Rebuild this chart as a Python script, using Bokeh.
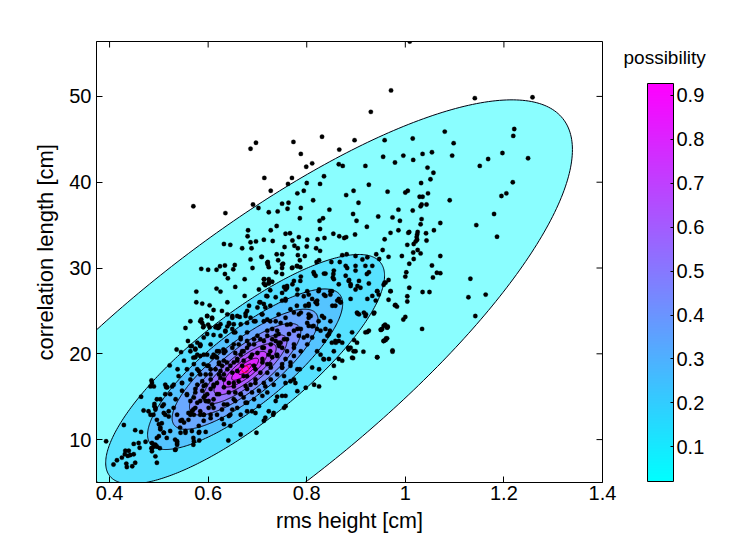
import numpy as np
from bokeh.plotting import figure
from bokeh.models import ColorBar, LinearColorMapper, Range1d, FixedTicker, ColumnDataSource, Title
from bokeh.embed import file_html
from bokeh.resources import INLINE

# contour model (concentric ellipses in data units)
centre_x, centre_y = 0.675, 18.2
half_width, half_height = 0.664, 31.4
correlation = 0.815
contour_levels = [0.0, 0.1, 0.2, 0.3, 0.4, 0.5, 0.6, 0.7, 0.8, 0.9]
contour_radii = [1.0, 0.426, 0.298, 0.223, 0.170, 0.128, 0.095, 0.066, 0.041, 0.0195]
band_colors = ["#8afeff", "#58e2ff", "#55c4ff", "#6aa8ff", "#7f8fff", "#9474ff", "#ad5aff", "#c840ff", "#e022ff", "#ff10e8"]

upper_x = [1.009,.971,.930,.697,.686,.773,.831,.788,.897,.866,.958,.799,.811,.865,.873,.919,.955,.979,.996,.714,.770,.762,.835,.827,.800,.926,.727,.781,.794,.895,.880,.964,1.0,.813,.570,.691,.702,.635,.750,.763,.761,.788,.905,.846,.723,.741,.894,.986,.945,.974,.786,.833,.826,.901,.989,.739,.727,.681,.922,.827,.986,.970,1.008,.757,.766,.680,.854,.866,.876,.880,.898,.771,.784,.801,.822,.836,.958,.686,.697,.713,.731,.632,.645,.669,.688,.755,.775,.782,.800,.819,.827,1.004,.954,.739,.750,.709,.782,.796,.872,.881,.899,.941,.966,.993,.686,.721,.742,.752,.786,.825,.820,.850,.867,.913,.923,.947,1.008,.586,.600,.617,.624,.634,.654,.651,.690,.723,.750,.771,.781,.787]
upper_y = [56.4,50.7,48.2,44.6,43.9,44.7,45.3,43.3,44.9,43.8,44.9,41.8,42.2,42.1,41.9,41.9,42.96,42.3,43.1,40.5,40.5,39.8,40.7,39.8,39.9,39.7,39.0,38.7,39.0,39.0,38.5,38.9,38.8,37.9,37.2,37.4,37.0,36.4,37.5,37.6,36.9,37.0,37.6,36.8,36.5,36.6,36.3,36.8,36.0,35.9,35.8,35.8,35.5,35.5,35.5,34.9,34.4,34.4,34.8,34.55,34.4,34.1,34.2,34.0,34.05,33.7,34.0,33.7,33.5,33.6,33.9,33.2,33.6,33.3,33.35,33.5,33.35,33.0,33.1,33.3,33.15,32.8,32.7,32.3,32.3,32.45,32.6,32.3,32.5,32.3,32.0,32.7,32.1,31.6,31.6,31.3,31.5,31.4,31.5,31.6,31.4,31.6,31.3,31.4,31.0,30.7,30.9,30.5,30.9,30.9,30.7,30.7,30.7,31.0,31.25,31.05,30.5,29.9,29.8,29.8,30.2,30.3,30.35,29.85,30.0,30.1,30.0,30.05,30.2,30.1]

right_x = [1.141,1.258,1.08,1.221,1.219,1.098,1.015,1.054,1.095,1.035,1.016,1.197,1.168,1.151,1.249,1.045,1.057,1.051,1.032,1.218,1.005,1.046,1.029,1.035,1.205,1.195,1.09,1.031,1.033,1.043,1.015,1.18,1.033,1.071,1.031,1.144,1.058,1.006,1.025,1.024,1.023,1.021,1.017,1.042,1.186,1.024,1.043,1.025,1.016,1.031,1.071,1.017,1.054,1.064,1.071,1.002,1.0,1.056,1.132,.966,.958,.956,1.008,.970,1.035,1.049,1.163,1.004,1.128,1.004,.966,.979,.983,1.142,1.0,.996,.959,.964,.951,1.034,.961,.956,.974]
right_y = [49.8,49.9,45.9,46.2,45.4,44.55,45.1,43.5,43.1,43.3,42.6,43.4,42.7,41.9,42.8,41.7,41.1,40.35,39.9,40.0,39.0,38.7,38.3,38.3,38.7,38.4,37.9,37.2,37.4,37.4,36.7,36.3,35.7,35.25,35.1,35.0,34.4,34.1,34.2,33.9,33.6,33.1,32.8,34.05,33.65,33.3,33.2,32.1,31.8,31.7,31.4,31.05,30.3,29.45,29.4,29.5,29.0,28.9,28.75,28.6,28.3,28.05,27.7,27.3,27.2,27.2,26.9,26.7,26.6,26.1,26.3,25.65,25.5,24.4,24.3,24.0,23.4,23.1,22.8,22.9,21.8,21.5,20.4]

middle_x = [.634,.640,.674,.655,.617,.625,.576,.714,.723,.716,.750,.754,.771,.788,.815,.854,.855,.835,.889,.886,.903,.926,.943,.960,.970,.98,.953,.964,.960,.974,.943,.923,.903,.92,.937,.896,.884,.899,.915,.894,.857,.815,.825,.798,.576,.588,.603,.611,.639,.674,.718,.564,.586,.588,.598,.608,.603,.554,.559,.564,.536,.545,.584,.605,.62,.649,.522,.538,.485,.49,.517,.464,.491,.469,.429,.452,.464,.393,.449,.459,.473,.461,.432,.439,.431,.437,.449,.442,.425,.415,.408,.452,.446,.435,.434,.371,.496,.485,.486,.49,.496,.534,.537,.571,.582,.595,.641,.666,.698,.713,.732,.757,.75,.74,.781,.767,.777,.786,.811,.825,.828,.835,.855,.872,.859,.865,.842,.847,.835,.821,.801,.811,.804,.821,.781,.744,.747,.737,.75]
middle_y = [29.3,28.8,28.7,27.8,27.6,27.25,27.25,28.7,28.3,28.0,29.3,27.8,28.1,29.0,29.3,29.3,28.7,29.35,28.1,28.6,27.9,28.2,27.3,28.3,27.3,25.7,22.9,23.2,21.6,20.25,19.6,22.55,24.7,24.6,24.8,21.6,20.7,20.3,20.25,19.5,17.2,16.4,16.2,16.05,26.0,25.85,25.65,25.1,26.0,26.75,26.75,23.8,24.0,23.6,24.4,24.2,23.1,23.0,21.5,20.9,20.5,20.2,20.9,21.1,23.0,24.2,18.65,18.2,16.9,16.2,16.1,15.0,13.9,13.4,11.7,11.1,10.9,9.8,9.5,9.6,9.75,9.05,8.7,8.7,8.3,8.1,8.3,8.2,7.9,7.6,7.1,7.3,6.9,6.8,7.2,5.0,7.3,9.0,8.65,9.2,9.2,8.85,9.8,9.8,10.9,10.9,9.9,10.6,10.8,12.2,12.9,13.9,15.1,15.0,15.65,16.8,16.6,18.2,18.4,18.2,19.9,19.35,18.6,19.2,21.3,21.5,22.1,22.7,21.5,20.3,22.1,23.2,24.2,22.9,22.9,20.9,21.3,22.1,18.8]

core_x = [.483,.496,.503,.513,.52,.493,.507,.5,.503,.51,.523,.496,.49,.486,.537,.544,.554,.544,.551,.564,.567,.574,.584,.591,.601,.595,.557,.547,.534,.53,.523,.513,.513,.574,.578,.588,.595,.581,.591,.598,.608,.615,.622,.628,.632,.578,.574,.598,.618,.635,.649,.662,.652,.649,.625,.622,.618,.639,.679,.686,.693,.713,.72,.7,.713,.706,.757,.781,.794,.804,.767,.774,.788,.804,.821,.821,.848,.848,.808,.801,.788,.774,.760,.747,.737,.74,.73,.72,.713,.7,.693,.683,.679,.669,.666,.659,.652,.645,.639,.632,.625,.618,.611,.605,.598,.591,.584,.578,.666,.672,.686,.7,.713,.727,.737,.743,.75,.74,.73,.72,.706,.696,.686,.679,.666,.652,.639,.628,.618,.605,.591,.581,.567,.662,.652,.642,.632,.622,.611,.601,.659,.669,.679,.693,.71,.723,.76,.767,.75,.754,.727,.716,.703,.693,.676,.659,.645,.628,.727,.781,.788,.801,.794,.784,.774,.76,.811,.828,.835,.845,.852,.869,.865,.835,.825,.801,.781,.76,.75,.737,.72,.683,.679,.659,.639,.628,.615,.598,.591,.578,.564,.551,.571,.557,.54,.547,.53,.564,.595,.605,.615,.622,.605,.588,.611,.655,.672,.72,.645,.632,.679,.696]
core_y = [12.9,14.7,14.7,12.9,13.3,13.7,13.9,11.8,11.2,10.8,11.0,10.2,9.4,9.6,9.6,10.8,11.0,12.2,12.0,12.9,13.3,13.7,12.9,12.9,13.7,14.5,15.3,15.7,14.7,13.7,15.3,16.4,15.3,15.5,16.4,16.8,16.4,18.0,18.8,18.6,19.6,19.7,18.8,18.6,19.2,19.9,19.6,19.9,20.3,20.3,20.7,21.1,22.5,22.9,22.1,23.1,23.2,23.2,22.5,24.2,23.8,23.8,24.0,25.4,25.8,26.0,26.4,26.9,26.7,26.9,25.2,24.8,24.8,25.6,25.8,26.2,26.9,27.3,24.4,23.6,22.9,22.7,23.4,23.6,23.8,22.7,22.9,22.1,21.5,22.1,21.7,21.1,20.7,20.3,19.9,19.4,19.0,18.6,18.2,17.6,17.2,16.6,16.2,15.9,15.3,14.9,14.5,14.3,21.7,19.2,19.6,20.1,20.7,21.1,21.5,21.1,20.7,19.9,19.6,18.8,17.8,17.0,16.4,15.9,15.3,14.7,14.1,13.5,12.9,12.5,12.2,11.6,11.0,16.8,16.2,16.6,16.1,15.3,14.7,14.5,18.0,18.6,17.4,18.6,19.4,19.9,20.3,19.0,18.4,17.4,17.0,16.2,15.7,14.7,14.3,13.7,12.9,12.4,18.4,18.2,20.3,21.1,21.9,22.1,21.1,21.7,21.9,22.7,24.2,22.3,25.6,26.0,26.4,26.9,27.5,27.3,27.5,27.7,27.1,26.6,26.7,25.6,25.0,24.4,24.6,25.0,23.1,22.3,21.9,21.3,20.3,19.2,18.8,18.2,17.4,16.6,16.4,17.0,17.6,18.2,18.2,17.6,17.0,15.7,13.7,15.5,14.9,15.5,11.6,11.8,13.3,13.1]

lower_left_x = [.486,.483,.515,.479,.491,.493,.489,.51,.496,.51,.52,.506,.503,.51,.5,.516,.537,.547,.56,.543,.554,.533,.537,.57,.581,.591,.57,.56,.557,.564,.527,.547,.486,.493,.493,.502,.533,.57,.582]
lower_left_y = [16.6,16.2,16.1,13.3,14.15,13.5,12.9,14.1,12.3,13.1,12.7,11.9,11.4,10.8,10.4,10.2,12.9,12.3,12.3,11.4,10.8,10.0,9.4,10.2,10.8,12.9,13.5,13.1,15.2,14.5,16.2,16.6,9.0,8.05,9.4,9.0,8.8,9.4,9.9]

right_band_x = [.814,.818,.838,.855,.853,.879,.882,.899,.899,.919,.922,.926,.933,.879,.885,.906,.889,.899,.909,.865,.943,.946,.933,.889,.923,.94,.902,.906,.916,.919,.936,.956,.963,.95,.919,.926,.956,.963,.892,.902,.889,.885,.895,.858,.851,.865,.872,.855,.892,.834,.845,.865,.943,.824,.851,.838,.811,.804,.797,.818,.862,.868,.858,.831,.824,.848,.838,.814,.804,.784,.804,.78,.757,.75,.76,.757,.774,.787,.78,.77,.75]
right_band_y = [29.5,29.1,29.35,29.7,28.9,30.25,30.0,30.25,29.7,30.25,29.3,29.5,30.25,29.1,28.5,28.5,27.9,27.5,27.7,28.1,27.3,26.9,26.75,26.4,26.4,26.2,24.8,24.6,24.8,24.4,24.7,23.25,23.05,22.8,22.5,22.7,21.5,21.8,22.5,21.3,20.7,20.5,20.3,21.5,21.3,22.1,21.3,20.3,19.55,19.4,19.4,19.4,19.6,27.3,27.3,26.75,26.4,25.8,25.6,26.0,26.2,26.0,25.6,24.4,23.8,23.8,22.9,23.25,23.25,24.6,24.6,25.6,26.2,26.2,27.9,27.5,28.5,28.5,30.25,30.0,30.4]

left_band_x = [.713,.723,.713,.723,.73,.738,.72,.721,.708,.703,.726,.704,.726,.716,.709,.676,.664,.635,.643,.6,.59,.584,.574,.57,.584,.618,.631]
left_band_y = [28.7,28.7,28.2,28.2,28.4,29.5,30.6,30.4,31.3,27.5,27.4,26.0,25.6,25.4,24.6,24.7,24.3,22.6,23.5,23.4,23.1,21.0,20.6,19.55,19.75,19.55,20.5]

inner_x = [.598,.608,.584,.591,.618,.625,.649,.652,.642,.676,.71,.679,.666,.635,.611,.655,.696,.726,.743,.757,.767,.72,.743,.764,.754,.774,.743,.73,.706,.693,.679,.666,.652,.638,.622,.584,.567,.574,.591,.611,.632,.655,.672,.689,.71,.726,.74,.757,.774,.75,.767,.726,.71,.659,.638,.622,.601,.578,.567,.584,.605,.625,.649,.672,.696,.72,.74,.757,.774,.733,.713,.696,.676,.652,.632,.611,.591,.574,.571,.594,.618,.642,.666,.689,.71,.737,.757,.754,.723,.703,.679,.655,.632,.608,.584,.571,.605,.642,.666,.689,.716,.733,.649]
inner_y = [24.4,24.1,23.8,23.25,23.25,23.45,24.4,23.45,23.6,24.4,24.6,23.6,23.45,22.7,22.2,22.5,23.8,23.8,24.6,24.2,23.45,22.7,22.3,22.3,21.7,20.7,21.3,21.7,21.7,21.1,21.5,21.9,21.1,21.5,20.3,21.1,20.9,20.5,19.9,19.9,20.1,20.1,20.3,19.9,20.7,20.3,19.75,19.4,19.75,18.4,18.6,18.8,19.0,19.2,19.0,19.0,18.6,18.2,17.6,17.6,17.6,18.0,17.8,17.4,18.2,17.8,17.6,16.6,17.0,16.4,16.6,16.6,16.25,16.6,17.0,16.4,16.25,15.9,14.9,15.1,15.3,15.5,15.3,15.5,15.1,14.5,15.1,13.7,13.3,13.9,14.3,14.5,14.1,14.1,13.3,12.9,12.9,12.75,12.9,13.3,12.55,13.1,13.5]

x_ticks = [0.4, 0.6, 0.8, 1.0, 1.2, 1.4]
y_ticks = [10, 20, 30, 40, 50]
bar_ticks = [0.1, 0.2, 0.3, 0.4, 0.5, 0.6, 0.7, 0.8, 0.9]

pts_x = upper_x + right_x + middle_x + core_x + lower_left_x + right_band_x + left_band_x + inner_x
pts_y = upper_y + right_y + middle_y + core_y + lower_left_y + right_band_y + left_band_y + inner_y
assert len(pts_x) == len(pts_y)

x_min, x_max, y_min, y_max = 0.3735, 1.4, 5.0, 56.4
FONT = "Liberation Sans"

p = figure(width=726, height=536, frame_width=506, frame_height=441,
           x_range=Range1d(x_min, x_max), y_range=Range1d(y_min, y_max),
           output_backend="svg", toolbar_location=None,
           x_axis_label="rms height [cm]",
           min_border_left=96, min_border_top=41, min_border_bottom=55, min_border_right=124)
p.grid.visible = False
p.background_fill_color = "white"
p.outline_line_color = "black"
p.outline_line_width = 1

t = np.linspace(0, 2 * np.pi, 361)
phi = np.arccos(correlation)
for r, c in zip(contour_radii, band_colors):
    ex = centre_x + r * half_width * np.cos(t)
    ey = centre_y + r * half_height * np.cos(t - phi)
    p.patch(ex, ey, fill_color=c, line_color="#000010", line_width=1)

p.scatter([centre_x], [centre_y], size=7, fill_color=None, line_color="#e8103c", line_width=1)
src = ColumnDataSource(dict(x=pts_x, y=pts_y))
p.scatter("x", "y", source=src, size=4.4, marker="circle", fill_color="black", line_color="black", line_width=0.3)

# inward ticks on the top and right edges
p.scatter(x_ticks, [y_max] * len(x_ticks), marker="dash", size=12, angle=np.pi / 2, line_color="black")
p.scatter([x_max] * len(y_ticks), y_ticks, marker="dash", size=12, line_color="black")

for ax, ticks in ((p.xaxis[0], x_ticks), (p.yaxis[0], y_ticks)):
    ax.ticker = FixedTicker(ticks=ticks)
    ax.major_tick_in = 6
    ax.major_tick_out = 0
    ax.minor_tick_line_color = None
    ax.major_label_text_font = FONT
    ax.major_label_text_font_size = "20px"
    ax.major_label_text_color = "black"
    ax.axis_label_text_font = FONT
    ax.axis_label_text_font_size = "21.5px"
    ax.axis_label_text_font_style = "normal"
    ax.axis_label_text_color = "black"
    ax.axis_line_color = "black"
    ax.major_tick_line_color = "black"
p.xaxis[0].axis_label_standoff = 6
p.xaxis[0].major_label_standoff = 3
p.yaxis[0].major_label_standoff = 5

mapper = LinearColorMapper(palette=[f"#{i:02x}{255-i:02x}ff" for i in range(256)], low=0.021, high=0.927)
cb = ColorBar(color_mapper=mapper, ticker=FixedTicker(ticks=bar_ticks), width=26, height=398,
              major_label_text_font=FONT, major_label_text_font_size="20px", major_label_text_color="black",
              major_tick_line_color="black", major_tick_in=3, minor_tick_line_color=None,
              bar_line_color="black", label_standoff=3, padding=0, margin=0,
              location=(551, 1))
p.add_layout(cb)

# a bar of no visible size that only carries the colour bar's title, left of the real bar's edge
holder = ColorBar(color_mapper=mapper, ticker=FixedTicker(ticks=[]), width=90, height=2, scale_alpha=0,
                  orientation="horizontal",
                  title="possibility", title_text_font=FONT, title_text_font_size="19px",
                  title_text_font_style="normal", title_text_color="black", title_standoff=4,
                  major_tick_line_color=None, minor_tick_line_color=None, bar_line_color=None,
                  background_fill_color=None, border_line_color=None, padding=0, margin=0,
                  location=(527, 411))
p.add_layout(holder)

p.add_layout(Title(text="correlation length [cm]", align="left", offset=122, standoff=18, text_font=FONT,
                   text_font_size="22px", text_font_style="normal", text_color="black"), "left")

open("out.html", "w").write(file_html(p, INLINE))
